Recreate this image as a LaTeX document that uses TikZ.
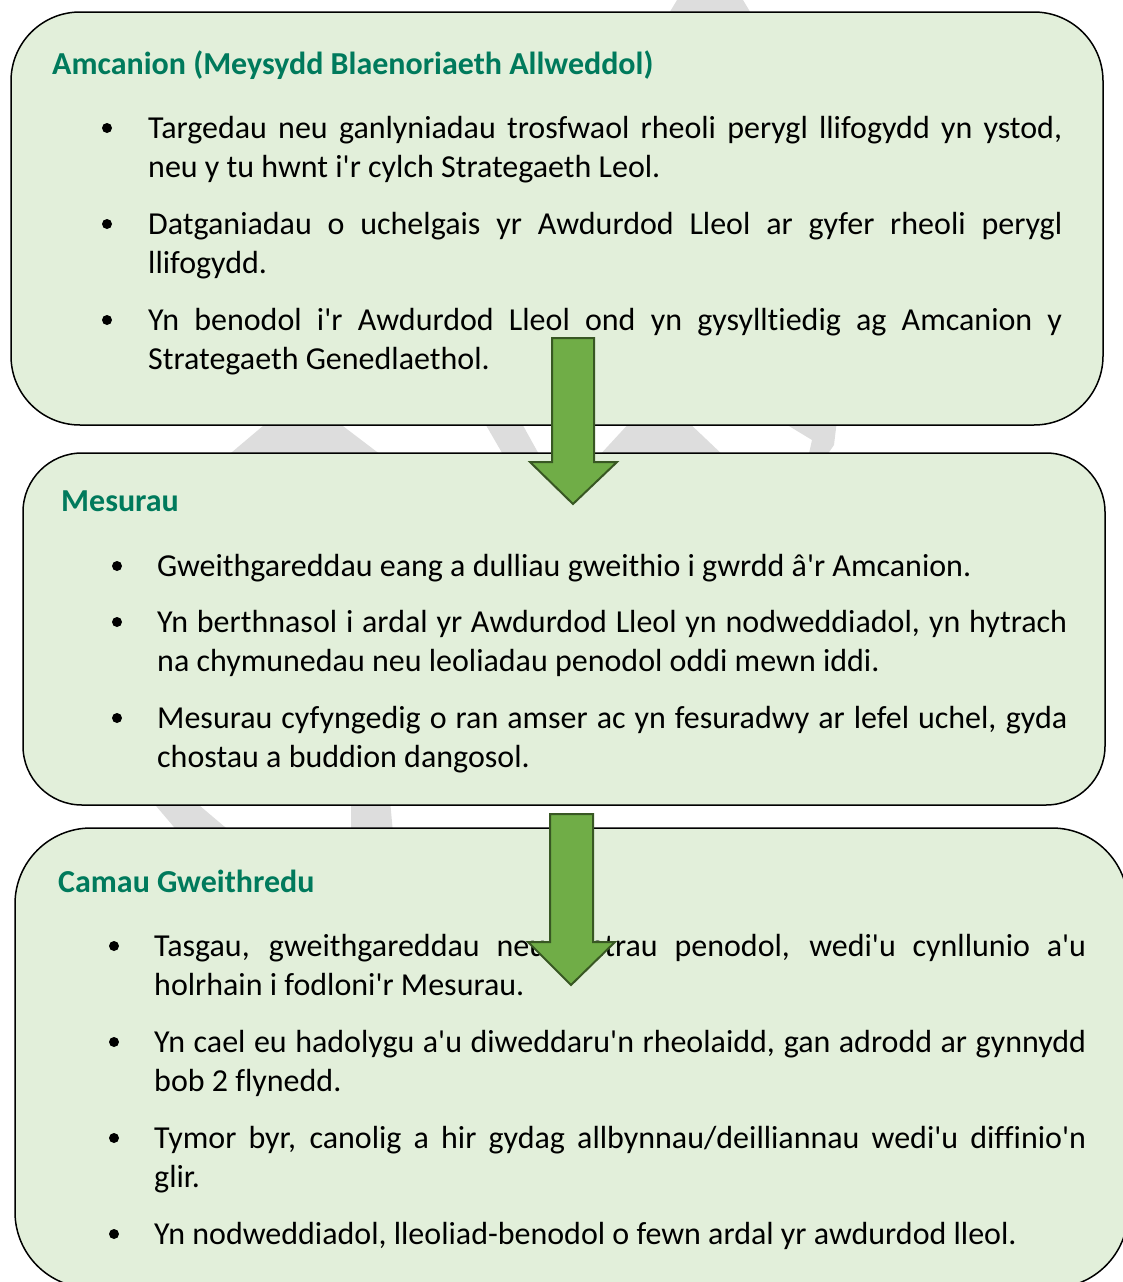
\documentclass[tikz,border=0pt]{standalone}
\usepackage{fontspec}
\newfontfamily\calfont{Carlito}[Ligatures=NoCommon]
\usepackage{xcolor}
\definecolor{panelfill}{RGB}{226,239,218}
\definecolor{headgreen}{RGB}{0,122,92}
\definecolor{arrowfill}{RGB}{112,173,71}
\definecolor{arrowline}{RGB}{56,87,35}
\definecolor{wmgrey}{RGB}{221,221,221}

\begin{document}
\begin{tikzpicture}[x=1pt,y=1pt,yscale=-1,xscale=1,
  panel/.style={draw=black,line width=1.5pt,fill=panelfill},
  head/.style={anchor=base west,inner sep=0pt,text=headgreen,font=\calfont\fontsize{32}{39}\selectfont\bfseries},
  item/.style={anchor=base west,inner sep=0pt,align=justify,font=\calfont\fontsize{32}{39}\selectfont,
    execute at begin node={\tolerance=9999\hyphenpenalty=10000}},
  dot/.style={circle,fill=black,inner sep=0pt,minimum size=10pt},
  blockarrow/.style={draw=arrowline,line width=2pt,fill=arrowfill,line join=miter},
  watermark/.style={fill=wmgrey,draw=none}]

\useasboundingbox (0,0) rectangle (1123,1282);
\clip (0,0) rectangle (1123,1282);

% faint watermark pieces showing between the panels
\fill[watermark] (665,20) -- (680,-5) -- (740,-5) -- (755,20) -- cycle;
\fill[watermark] (270,420) -- (335,420) -- (385,458) -- (225,458) -- cycle;
\fill[watermark] (483,420) -- (520,420) -- (541,458) -- (505,458) -- cycle;
\fill[watermark] (632,420) -- (686,420) -- (726,458) -- (597,458) -- cycle;
\fill[watermark] (779,420) -- (837,420) -- (834,445) -- (825,458) -- (808,458) -- (812,440) -- cycle;
\fill[watermark] (151,800) -- (193,800) -- (232,833) -- (179,833) -- cycle;
\fill[watermark] (351,800) -- (390,800) -- (393,833) -- (351,833) -- cycle;

% panels
\draw[panel,rounded corners=69pt] (11,12) rectangle (1103,425);
\draw[panel,rounded corners=59pt] (23,453) rectangle (1105,805);
\draw[panel,rounded corners=76pt] (15,828) rectangle (1128,1288);

% Amcanion
\draw (52,74) node (aimsHead) [head] {Amcanion (Meysydd Blaenoriaeth Allweddol)};
\node[dot] (aimsDotA) at (107,128) {};
\node[dot] (aimsDotB) at (107,224) {};
\node[dot] (aimsDotC) at (107,320) {};
\draw (148,138) node (aimsA) [item,text width=914pt] {Targedau neu ganlyniadau trosfwaol rheoli perygl llifogydd yn ystod,\linebreak neu y tu hwnt i'r cylch Strategaeth Leol.};
\draw (148,234) node (aimsB) [item,text width=914pt] {Datganiadau o uchelgais yr Awdurdod Lleol ar gyfer rheoli perygl\linebreak llifogydd.};
\draw (148,330) node (aimsC) [item,text width=914pt] {Yn benodol i'r Awdurdod Lleol ond yn gysylltiedig ag Amcanion y\linebreak Strategaeth Genedlaethol.};

% Mesurau
\draw (61,511) node (measHead) [head] {Mesurau};
\node[dot] (measDotA) at (117,566) {};
\node[dot] (measDotB) at (117,622) {};
\node[dot] (measDotC) at (117,718) {};
\draw (157,576) node (measA) [item,text width=910pt] {Gweithgareddau eang a dulliau gweithio i gwrdd â'r Amcanion.};
\draw (157,632) node (measB) [item,text width=910pt] {Yn berthnasol i ardal yr Awdurdod Lleol yn nodweddiadol, yn hytrach\linebreak na chymunedau neu leoliadau penodol oddi mewn iddi.};
\draw (157,728) node (measC) [item,text width=910pt] {Mesurau cyfyngedig o ran amser ac yn fesuradwy ar lefel uchel, gyda\linebreak chostau a buddion dangosol.};

% Camau Gweithredu
\draw (58,892) node (actHead) [head] {Camau Gweithredu};
\node[dot] (actDotA) at (114,946) {};
\node[dot] (actDotB) at (114,1042) {};
\node[dot] (actDotC) at (114,1138) {};
\node[dot] (actDotD) at (114,1234) {};
\draw (154,956) node (actA) [item,text width=932pt] {Tasgau, gweithgareddau neu fentrau penodol, wedi'u cynllunio a'u\linebreak holrhain i fodloni'r Mesurau.};
\draw (154,1052) node (actB) [item,text width=932pt] {Yn cael eu hadolygu a'u diweddaru'n rheolaidd, gan adrodd ar gynnydd\linebreak bob 2 flynedd.};
\draw (154,1148) node (actC) [item,text width=932pt] {Tymor byr, canolig a hir gydag allbynnau/deilliannau wedi'u diffinio'n\linebreak glir.};
\draw (154,1244) node (actD) [item,text width=932pt] {Yn nodweddiadol, lleoliad-benodol o fewn ardal yr awdurdod lleol.};

% block arrows between panels
\draw[blockarrow] (552,338) -- (594,338) -- (594,462) -- (617,462) -- (573,504) -- (530,462) -- (552,462) -- cycle;
\draw[blockarrow] (550,814) -- (593,814) -- (593,942) -- (615,942) -- (571,985) -- (528,942) -- (550,942) -- cycle;

\end{tikzpicture}
\end{document}
